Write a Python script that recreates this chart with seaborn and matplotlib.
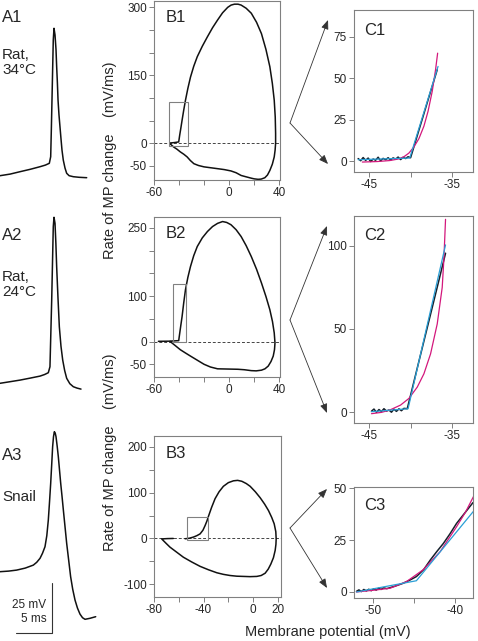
"""
Action potentials (A), phase plots (B) and zoomed onset fits (C) for rat 34/24 C and snail.
"""

import matplotlib

matplotlib.use("Agg")
import matplotlib.pyplot as plt
import seaborn as sns
from matplotlib.patches import FancyArrowPatch, Rectangle

# ---- A: raw action potentials (time in ms, membrane potential in mV) ----
a1_t = [0, 1.4, 2.78, 4.2, 5.56, 6.3, 6.85, 7.04, 7.13, 7.22, 7.31, 7.40, 7.50, 7.64, 7.78, 7.87, 7.97,
        8.06, 8.19, 8.33, 8.47, 8.61, 8.79, 9.03, 9.26, 9.6, 10.18, 11.0, 12.04]
a1_v = [-65, -64.2, -63, -61.8, -60.5, -59.7, -58.8, -55.5, -42, -27.2, -12, 2.9, 8.7, 5.4, -2, -10.5, -18.5,
        -27.2, -34.5, -40.5, -46.5, -52.2, -57.2, -61.2, -63.8, -65, -65.5, -65.8, -66.0]

a2_t = [0, 1.4, 2.78, 4.2, 5.56, 6.2, 6.71, 6.94, 7.06, 7.18, 7.29, 7.40, 7.50, 7.64, 7.76, 7.87, 8.05,
        8.24, 8.47, 8.71, 8.98, 9.26, 9.7, 10.18, 10.7, 11.25]
a2_v = [-65, -64.2, -63.4, -62.4, -61.4, -60.6, -59.7, -56.7, -40, -23.4, -5, 13.3, 18.0, 15.0, 5, -6.7, -22,
        -36.7, -46.5, -53.4, -58.6, -62.5, -65.2, -66.7, -67.4, -67.9]

a3_t = [0, 1.2, 2.31, 3.5, 4.63, 5.1, 5.56, 5.9, 6.25, 6.5, 6.71, 6.88, 7.04, 7.18, 7.31, 7.43, 7.55, 7.67,
        7.78, 7.94, 8.10, 8.43, 8.62, 8.80, 9.03, 9.26, 9.53, 9.81, 10.1, 10.42, 10.76, 11.11, 11.46, 11.81,
        12.5, 13.29]
a3_v = [-50, -49.7, -49.2, -48.2, -46.7, -45.3, -43.3, -40.8, -37.5, -32, -24.2, -15, -5.8, 3.5, 12.5, 17.5,
        20, 19.3, 17.5, 12.8, 7.5, -5.8, -12.5, -19.2, -27.5, -35.8, -44, -52.5, -58.8, -64.2, -68.2, -71.2,
        -73, -73.8, -73.3, -72.5]

# ---- B: phase plots (membrane potential mV vs dV/dt mV/ms) ----
b1_v = [-47.3, -47.1, -44.0, -40.3, -39.5, -38.5, -37.6, -36.3, -34.9, -33.0, -30.9, -28.3, -25.5, -21.5,
        -17.4, -13.3, -9.3, -5.3, -1.2, 1.5, 4.2, 7.0, 9.5, 13.5, 17.6, 21.8, 25.7, 29.3, 32.4, 34.4, 35.9,
        36.7, 37.0, 37.0, 36.6, 35.9, 34.4, 32.4, 30.5, 28.4, 25.5, 23.0, 20.0, 17.6, 13.5, 9.5, 5.5, 1.4,
        -4.0, -9.3, -14.7, -20.1, -24.5, -28.2, -31.0, -33.6, -36.3, -39.0, -41.7, -44.4, -46.0, -47.3]
b1_r = [-1, 0.7, 1.5, 3, 18, 35, 51, 73, 95, 121, 146, 170, 191, 214,
        235, 255, 272, 288, 300, 305, 307, 307, 305, 298, 287, 267, 242, 207, 169, 132, 95,
        58, 22, 0, -15, -30, -46, -60, -70, -76, -79, -79.5, -78.5, -77, -74, -71, -65, -61,
        -58, -56, -54, -52, -49, -45, -38, -30, -24, -19, -13, -8, -4, -1]

b2_v = [-56.5, -48.0, -40.3, -39.0, -37.6, -36.3, -34.9, -33.0, -30.9, -28.3, -25.5, -21.5, -17.4, -13.3,
        -9.3, -5.3, -2.0, 1.4, 5.5, 9.5, 13.5, 17.6, 21.8, 25.7, 29.3, 32.4, 34.5, 35.9, 36.5, 36.1, 35.1,
        33.3, 31.1, 28.5, 25.7, 21.5, 17.6, 12.0, 6.9, -1.0, -9.3, -15.0, -20.1, -25.5, -30.9, -35.0,
        -39.0, -43.0, -47.1]
b2_r = [0.5, 0.8, 2, 28, 55, 85, 114, 141, 165, 189, 209, 228, 242, 253,
        260, 264, 262, 257, 246, 231, 211, 187, 159, 129, 99, 70, 44, 19, -3, -18, -32,
        -44, -54, -60, -63, -64.5, -64, -62, -61, -60.5, -60, -56, -50, -41, -32, -25,
        -18, -9, 0]

b3_v = [-54.9, -51.5, -48.2, -45.5, -42.8, -40.5, -38.8, -37.3, -36.1, -33.5, -30.7, -27.5, -24.0, -20.0,
        -15.9, -12.5, -9.1, -5.5, -2.4, 1.8, 5.7, 9.3, 12.4, 15.0, 17.0, 18.3, 18.6, 18.4, 17.8, 16.4, 14.3,
        12.2, 9.7, 6.5, 3.0, -2.5, -7.8, -13.2, -18.6, -24.0, -29.3, -36.0, -42.8, -49.5, -56.3, -61.7,
        -67.1, -70.5, -73.8, -69.0, -64.4]
b3_r = [-0.7, 0.5, 3, 6, 10, 18, 28, 38, 48, 68, 87, 102, 114, 122,
        126, 127, 125, 120, 114, 102, 89, 75, 61, 46, 32, 15, -1, -13, -26, -42, -56,
        -67, -76, -81, -83, -83.5, -83, -82.5, -81, -78.5, -75, -68.5, -61, -51.5, -41, -30,
        -19, -10, -1, -0.3, 0]

# zoom windows drawn in B (v0, v1, r0, r1)
b1_zoom = (-47.9, -32.5, -6.6, 90.6)
b2_zoom = (-44.6, -34.1, -2.0, 127.0)
b3_zoom = (-53.3, -36.3, -4.4, 46.0)

# ---- C: onset of the upstroke, recorded trace + linear and exponential fits ----
c1_v = [-46.3, -46.0, -45.7, -45.4, -45.1, -44.8, -44.5, -44.2, -43.9, -43.6, -43.3, -43.0, -42.7, -42.4,
        -42.1, -41.8, -41.5, -41.2, -40.9, -40.6, -40.3, -40.0, -39.6, -39.0, -38.4, -37.8, -37.2, -36.8]
c1_r = [1.5, 0.2, 2.1, 0.4, 1.8, -0.3, 1.2, 0.5, 2.3, 0.1, 1.6, 0.8, 2.0, 0.6,
        1.9, 1.1, 2.4, 0.9, 2.2, 1.5, 2.6, 2.0, 8.6, 18.6, 28.5, 38.5, 48.4, 55]
c1_lin_v = [-46.3, -40.1, -36.7]
c1_lin_r = [0.8, 1.8, 57]
c1_exp_v = [-45.8, -44.0, -42.5, -41.5, -40.8, -40.2, -39.6, -39.0, -38.4, -37.9, -37.4, -37.0, -36.75]
c1_exp_r = [-0.6, -0.3, 0.3, 1.2, 2.6, 4.8, 8.5, 13.5, 21, 30, 42, 55, 65]

c2_v = [-44.7, -44.4, -44.1, -43.8, -43.5, -43.2, -42.9, -42.6, -42.3, -42.0, -41.7, -41.4, -41.1, -40.8,
        -40.4, -39.8, -39.0, -38.2, -37.4, -36.6, -35.8]
c2_r = [0.5, 1.8, -0.2, 1.5, 0.3, 2.0, 0.6, 1.2, -0.1, 1.7, 0.4, 1.9, 0.8, 2.2,
        2.0, 14.2, 30.5, 46.7, 62.9, 79.2, 95.6]
c2_lin_v = [-44.7, -40.3, -35.8]
c2_lin_r = [0.2, 2.0, 100.6]
c2_exp_v = [-44.7, -43.5, -42.5, -41.2, -40.2, -39.2, -38.4, -37.6, -36.8, -36.2, -36.0, -35.8]
c2_exp_r = [-1, -0.2, 1.2, 4.2, 8.2, 15, 23, 35, 53, 75, 92, 116]

c3_v = [-52.0, -51.7, -51.4, -51.1, -50.8, -50.5, -50.2, -49.9, -49.6, -49.3, -49.0, -48.7, -48.3,
        -47.3, -46.3, -45.5, -44.7, -43.8, -43.0, -42.2, -41.4, -40.6, -39.8, -38.8, -37.8]
c3_r = [0.3, 1.0, 0.2, 1.2, 0.5, 1.3, 0.6, 1.5, 0.9, 1.8, 1.2, 2.0, 1.6,
        2.8, 4.2, 5.7, 7.4, 10.8, 15.4, 19.5, 23.4, 28.0, 33.0, 38.0, 43.0]
c3_lin_v = [-52.0, -44.7, -37.6]
c3_lin_r = [0.0, 5.4, 39.5]
c3_exp_v = [-52.0, -49.8, -47.9, -45.9, -43.9, -41.8, -39.8, -38.7, -37.6]
c3_exp_r = [0.0, 0.9, 1.8, 5.0, 10.6, 19.4, 31.4, 38.5, 47.0]

W, H = 478, 641
GRAY = "#808080"
TRACE = "#111111"
BLUE = "#2a9fd6"
MAGENTA = "#d3177c"

sns.set_style("ticks")
plt.rcParams["font.family"] = ["Liberation Sans", "DejaVu Sans"]

fig = plt.figure(figsize=(W / 100, H / 100), dpi=100)


def px_axes(left, top, right, bottom):
    return fig.add_axes([left / W, 1 - bottom / H, (right - left) / W, (bottom - top) / H])


def style_axes(ax):
    for sp in ax.spines.values():
        sp.set_visible(True)
        sp.set_color(GRAY)
        sp.set_linewidth(0.8)
    ax.tick_params(direction="out", length=3.5, width=0.7, color=GRAY, labelsize=8.5, pad=1.5)
    ax.set_xlabel("")
    ax.set_ylabel("")


def line(ax, x, y, color, lw=1.1):
    sns.lineplot(x=x, y=y, sort=False, estimator=None, color=color, lw=lw, ax=ax)


# A column
a_specs = [
    ((0, 0, 110, 200), (-77.15, 22.85), a1_t, a1_v),
    ((0, 200, 110, 400), (-73.35, 26.65), a2_t, a2_v),
    ((0, 420, 110, 641), (-84.65, 25.85), a3_t, a3_v),
]
a_axes = []
for box, ylim, t, v in a_specs:
    ax = px_axes(*box)
    line(ax, t, v, TRACE, lw=1.1)
    ax.set_xlim(0, 110 / 7.2)
    ax.set_ylim(*ylim)
    ax.axis("off")
    a_axes.append(ax)

# scale bar: 25 mV, 5 ms
ax3 = a_axes[2]
ax3.plot([7.22, 7.22, 2.22], [-55.65, -80.65, -80.65], color="#333333", lw=0.8, clip_on=False)
ax3.text(6.45, -66.7, "25 mV", ha="right", va="center", fontsize=8.5)
ax3.text(6.45, -73.9, "5 ms", ha="right", va="center", fontsize=8.5)

# B column
b_specs = [
    ((154, 1, 280, 180), b1_v, b1_r, b1_zoom, (-60, 40.5), (-81, 314),
     [-60, -40, -20, 0, 20, 40], ["-60", "", "", "0", "", "40"],
     [-50, 0, 50, 100, 150, 200, 250, 300], ["-50", "0", "", "", "150", "", "", "300"]),
    ((154, 217, 280, 377), b2_v, b2_r, b2_zoom, (-60, 40.5), (-78, 274),
     [-60, -40, -20, 0, 20, 40], ["-60", "", "", "0", "", "40"],
     [-50, 0, 50, 100, 150, 200, 250], ["-50", "0", "", "100", "", "", "250"]),
    ((154, 436, 281, 597), b3_v, b3_r, b3_zoom, (-80, 22.5), (-128, 224),
     [-80, -60, -40, -20, 0, 20], ["-80", "", "-40", "", "0", "20"],
     [-100, -50, 0, 50, 100, 150, 200], ["-100", "", "0", "", "100", "", "200"]),
]
for box, v, r, zoom, xlim, ylim, xt, xtl, yt, ytl in b_specs:
    ax = px_axes(*box)
    ax.axhline(0, color="#444444", lw=0.7, ls=(0, (3, 2)), zorder=1)
    line(ax, v, r, TRACE, lw=1.1)
    ax.add_patch(Rectangle((zoom[0], zoom[2]), zoom[1] - zoom[0], zoom[3] - zoom[2],
                           fill=False, ec=GRAY, lw=0.8, zorder=3))
    ax.set_xlim(*xlim)
    ax.set_ylim(*ylim)
    ax.set_xticks(xt, xtl)
    ax.set_yticks(yt, ytl)
    style_axes(ax)

# C column
c_specs = [
    ((354, 10, 473, 172), (c1_v, c1_r), (c1_lin_v, c1_lin_r), (c1_exp_v, c1_exp_r),
     (-46.8, -32.5), (-6.6, 91), [-45, -40, -35], ["-45", "", "-35"], [0, 25, 50, 75]),
    ((354, 216, 473, 423), (c2_v, c2_r), (c2_lin_v, c2_lin_r), (c2_exp_v, c2_exp_r),
     (-46.8, -32.5), (-6.6, 118), [-45, -40, -35], ["-45", "", "-35"], [0, 50, 100]),
    ((354, 487, 473, 598), (c3_v, c3_r), (c3_lin_v, c3_lin_r), (c3_exp_v, c3_exp_r),
     (-52.3, -37.8), (-2.9, 50.5), [-50, -45, -40], ["-50", "", "-40"], [0, 25, 50]),
]
for box, rec, lin, expo, xlim, ylim, xt, xtl, yt in c_specs:
    ax = px_axes(*box)
    line(ax, rec[0], rec[1], "#15202b", lw=1.1)
    line(ax, expo[0], expo[1], MAGENTA, lw=0.9)
    line(ax, lin[0], lin[1], BLUE, lw=0.9)
    ax.set_xlim(*xlim)
    ax.set_ylim(*ylim)
    ax.set_xticks(xt, xtl)
    ax.set_yticks(yt, [str(y) for y in yt])
    style_axes(ax)

# arrows linking B insets to C panels
chevrons = [
    ((290, 123), [(328, 20), (328, 164)]),
    ((290, 320), [(327, 226), (327, 413)]),
    ((290, 528), [(327, 489), (327, 588)]),
]
for (vx, vy), tips in chevrons:
    for tx, ty in tips:
        fig.add_artist(FancyArrowPatch((vx / W, 1 - vy / H), (tx / W, 1 - ty / H),
                                       transform=fig.transFigure,
                                       arrowstyle="-|>,head_length=0.55,head_width=0.22",
                                       mutation_scale=10, lw=0.6, color="#333333",
                                       shrinkA=0, shrinkB=0))

# panel labels and annotations
labels = [
    ("A1", 2, 10), ("A2", 2, 228), ("A3", 2, 448),
    ("B1", 166, 10), ("B2", 166, 226), ("B3", 166, 446),
    ("C1", 364, 23), ("C2", 364, 228), ("C3", 364, 498),
]
for txt, x, y in labels:
    fig.text(x / W, 1 - y / H, txt, ha="left", va="top", fontsize=12)

fig.text(2 / W, 1 - 48 / H, "Rat,\n34°C", ha="left", va="top", fontsize=11, linespacing=1.1)
fig.text(2 / W, 1 - 270 / H, "Rat,\n24°C", ha="left", va="top", fontsize=11, linespacing=1.1)
fig.text(2 / W, 1 - 490 / H, "Snail", ha="left", va="top", fontsize=11)

fig.text(110 / W, 1 - 160 / H, "Rate of MP change    (mV/ms)", rotation=90,
         ha="center", va="center", fontsize=10.5)
fig.text(110 / W, 1 - 452 / H, "Rate of MP change    (mV/ms)", rotation=90,
         ha="center", va="center", fontsize=10.5)
fig.text(328 / W, 1 - 632 / H, "Membrane potential (mV)", ha="center", va="center", fontsize=10.5)

fig.savefig("out.png", dpi=100)
plt.close(fig)
